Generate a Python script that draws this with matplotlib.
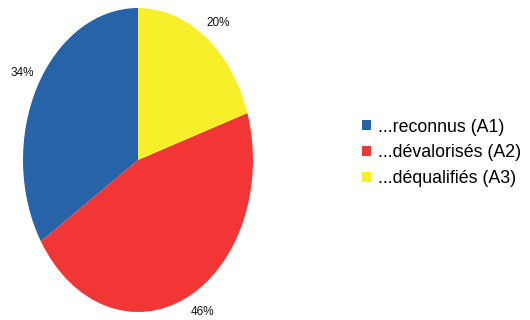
import matplotlib
matplotlib.use("Agg")
import matplotlib.pyplot as plt

labels = ["...reconnus (A1)", "...dévalorisés (A2)", "...déqualifiés (A3)"]
values = [34, 46, 20]
colors = ["#2763a8", "#f23535", "#f7ef2a"]
pct_labels = ["34%", "46%", "20%"]

plt.rcParams['font.family'] = ['Liberation Sans', 'DejaVu Sans']

fig = plt.figure(figsize=(5.3, 3.2), dpi=100)
W, H = 530, 320
ax = fig.add_axes([23 / W, 8 / H, 230 / W, 304 / H])
wedges, _ = ax.pie(values, colors=colors, startangle=90, counterclock=True,
                   wedgeprops=dict(linewidth=0))
ax.set_aspect('auto')
ax.set_xlim(-1, 1)
ax.set_ylim(-1, 1)

# label positions (layout, normalised pie coords)
label_pos = [(-1.01, 0.57), (0.56, -1.0), (0.70, 0.90)]
for txt, (x, y) in zip(pct_labels, label_pos):
    ax.text(x, y, txt, ha='center', va='center', fontsize=8.5, color='#111111',
            clip_on=False)

fig.legend(wedges, labels, loc='upper left', bbox_to_anchor=(362 / W, 1 - 118.5 / H),
           frameon=False, fontsize=12.8, handlelength=0.5, handleheight=0.5,
           handletextpad=0.4, labelspacing=0.5, borderpad=0, borderaxespad=0)

fig.savefig("out.png", dpi=100)
